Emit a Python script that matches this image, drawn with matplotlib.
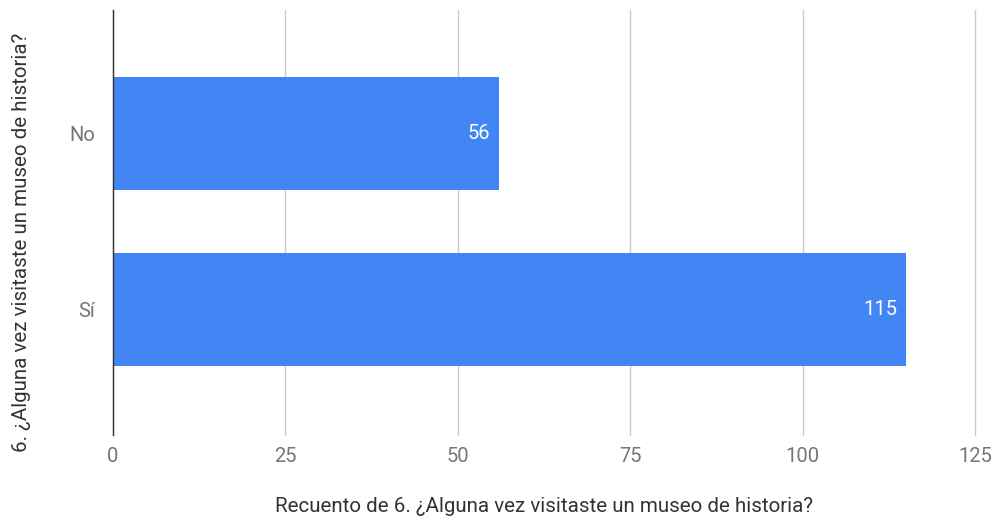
import matplotlib.pyplot as plt

plt.rcParams['font.family'] = ['Roboto', 'DejaVu Sans']

categorias = ['No', 'Sí']
recuento = [56, 115]
ticks_x = [0, 25, 50, 75, 100, 125]

fig = plt.figure(figsize=(9.97, 5.24), dpi=100)
ax = fig.add_axes([0.1133, 0.170, 0.8646, 0.811])

pos = list(range(len(categorias)))
ax.barh(pos, recuento, height=0.64, color='#4285F4', zorder=3)

for p, v in zip(pos, recuento):
    ax.text(v - 1.3, p, str(v), ha='right', va='center', color='white', fontsize=14.5, zorder=4)

ax.set_xlim(0, 125)
ax.set_ylim(1.71, -0.70)
ax.set_xticks(ticks_x)
ax.set_xticklabels([str(t) for t in ticks_x])
ax.set_yticks(pos)
ax.set_yticklabels(categorias)
ax.tick_params(axis='both', length=0, labelsize=14.5, labelcolor='#757575')
ax.tick_params(axis='x', pad=9)
ax.tick_params(axis='y', pad=13)

ax.grid(axis='x', color='#cccccc', linewidth=1, zorder=0)
for g in ax.xaxis.get_gridlines():
    g.set_clip_on(False)
for s in ['top', 'right', 'bottom']:
    ax.spines[s].set_visible(False)
ax.spines['left'].set_color('#333333')
ax.spines['left'].set_linewidth(1)
ax.spines['left'].set_zorder(5)

ax.set_xlabel('Recuento de 6. ¿Alguna vez visitaste un museo de historia?', fontsize=14.8, color='#333333', labelpad=22)
ax.set_ylabel('6. ¿Alguna vez visitaste un museo de historia?', fontsize=14.8, color='#333333')
ax.yaxis.set_label_coords(-0.095, 0.453)

fig.savefig('out.png', dpi=100)
